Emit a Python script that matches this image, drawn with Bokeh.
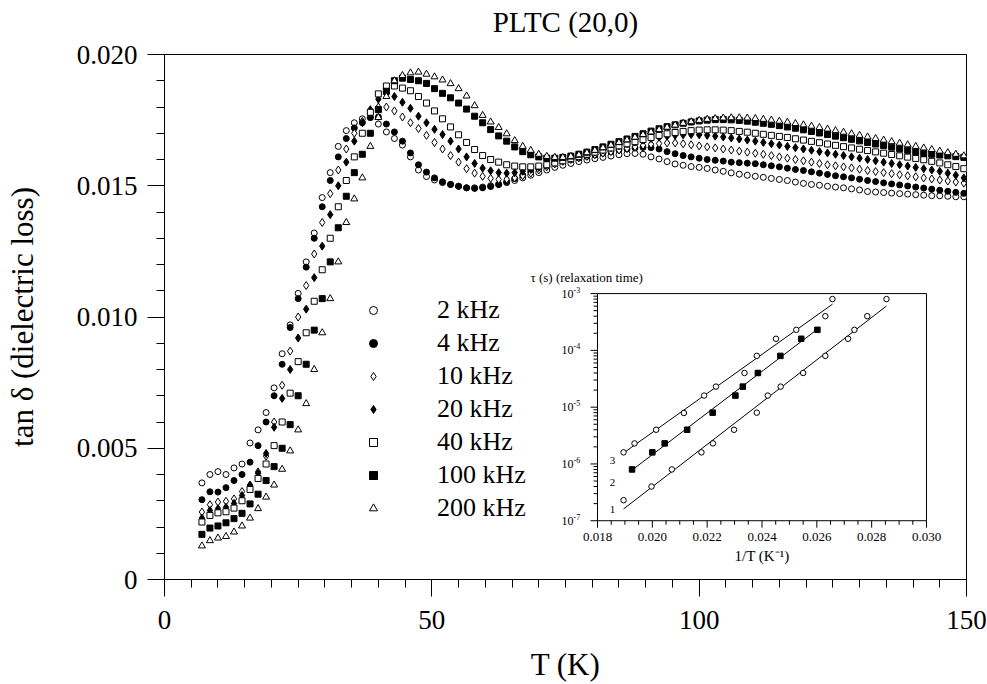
import numpy as np
from bokeh.plotting import figure
from bokeh.models import Range1d, LogScale, FixedTicker, Legend, LegendItem, NumeralTickFormatter, Title
from bokeh.core.properties import value
from bokeh.embed import file_html
from bokeh.resources import INLINE

SERIF = "'Liberation Serif', 'Times New Roman', serif"

# ---------------- main chart data: temperature (K) and tan(delta) -------------
T = [7.0, 8.5, 10.0, 11.5, 13.0, 14.5, 16.0, 17.5,
     19.0, 20.5, 22.0, 23.5, 25.0, 26.5, 28.0, 29.5,
     31.0, 32.5, 34.0, 35.5, 37.0, 38.5, 40.0, 41.5,
     43.0, 44.5, 46.0, 47.5, 49.0, 50.5, 52.0, 53.5,
     55.0, 56.5, 58.0, 59.5, 61.0, 62.5, 64.0, 65.5,
     67.0, 68.5, 70.0, 71.5, 73.0, 74.5, 76.0, 77.5,
     79.0, 80.5, 82.0, 83.5, 85.0, 86.5, 88.0, 89.5,
     91.0, 92.5, 94.0, 95.5, 97.0, 98.5, 100.0, 101.5,
     103.0, 104.5, 106.0, 107.5, 109.0, 110.5, 112.0, 113.5,
     115.0, 116.5, 118.0, 119.5, 121.0, 122.5, 124.0, 125.5,
     127.0, 128.5, 130.0, 131.5, 133.0, 134.5, 136.0, 137.5,
     139.0, 140.5, 142.0, 143.5, 145.0, 146.5, 148.0, 149.5]

tan_2k = [0.00368, 0.00400, 0.00411, 0.00400, 0.00425, 0.00440, 0.00520, 0.00570,
          0.00636, 0.00730, 0.00860, 0.00970, 0.01090, 0.01210, 0.01320, 0.01455,
          0.01550, 0.01650, 0.01710, 0.01740, 0.01755, 0.01760, 0.01735, 0.01705,
          0.01680, 0.01655, 0.01610, 0.01560, 0.01535, 0.01522, 0.01512, 0.01505,
          0.01498, 0.01492, 0.01492, 0.01495, 0.01500, 0.01505, 0.01512, 0.01520,
          0.01530, 0.01540, 0.01550, 0.01560, 0.01570, 0.01578, 0.01585, 0.01592,
          0.01598, 0.01603, 0.01608, 0.01613, 0.01618, 0.01622, 0.01623, 0.01620,
          0.01610, 0.01602, 0.01592, 0.01583, 0.01578, 0.01573, 0.01570, 0.01566,
          0.01560, 0.01555, 0.01549, 0.01544, 0.01540, 0.01536, 0.01532, 0.01528,
          0.01524, 0.01520, 0.01514, 0.01509, 0.01505, 0.01502, 0.01498, 0.01495,
          0.01492, 0.01488, 0.01484, 0.01478, 0.01476, 0.01474, 0.01472, 0.01470,
          0.01468, 0.01466, 0.01464, 0.01462, 0.01462, 0.01460, 0.01458, 0.01458]

tan_4k = [0.00304, 0.00334, 0.00333, 0.00350, 0.00377, 0.00400, 0.00447, 0.00510,
          0.00600, 0.00700, 0.00820, 0.00960, 0.01070, 0.01190, 0.01300, 0.01420,
          0.01520, 0.01610, 0.01680, 0.01720, 0.01740, 0.01760, 0.01762, 0.01735,
          0.01705, 0.01670, 0.01625, 0.01580, 0.01552, 0.01530, 0.01515, 0.01505,
          0.01498, 0.01492, 0.01490, 0.01492, 0.01497, 0.01505, 0.01515, 0.01527,
          0.01540, 0.01553, 0.01565, 0.01575, 0.01585, 0.01594, 0.01600, 0.01606,
          0.01612, 0.01618, 0.01624, 0.01630, 0.01636, 0.01640, 0.01644, 0.01646,
          0.01645, 0.01640, 0.01630, 0.01622, 0.01615, 0.01610, 0.01605, 0.01600,
          0.01597, 0.01594, 0.01590, 0.01588, 0.01586, 0.01584, 0.01580, 0.01576,
          0.01572, 0.01567, 0.01562, 0.01558, 0.01553, 0.01548, 0.01543, 0.01538,
          0.01534, 0.01530, 0.01525, 0.01520, 0.01516, 0.01511, 0.01507, 0.01503,
          0.01499, 0.01495, 0.01491, 0.01487, 0.01483, 0.01479, 0.01475, 0.01471]

tan_10k = [0.00257, 0.00285, 0.00295, 0.00298, 0.00307, 0.00335, 0.00358, 0.00410,
           0.00470, 0.00600, 0.00740, 0.00870, 0.01000, 0.01120, 0.01240, 0.01360,
           0.01470, 0.01560, 0.01640, 0.01700, 0.01745, 0.01780, 0.01800, 0.01800,
           0.01785, 0.01762, 0.01740, 0.01718, 0.01692, 0.01665, 0.01640, 0.01615,
           0.01590, 0.01565, 0.01548, 0.01536, 0.01528, 0.01524, 0.01525, 0.01530,
           0.01538, 0.01548, 0.01560, 0.01572, 0.01583, 0.01593, 0.01600, 0.01606,
           0.01612, 0.01618, 0.01624, 0.01630, 0.01636, 0.01642, 0.01648, 0.01654,
           0.01658, 0.01661, 0.01663, 0.01663, 0.01660, 0.01656, 0.01652, 0.01648,
           0.01644, 0.01640, 0.01636, 0.01632, 0.01628, 0.01624, 0.01620, 0.01615,
           0.01610, 0.01605, 0.01600, 0.01595, 0.01590, 0.01585, 0.01580, 0.01576,
           0.01572, 0.01568, 0.01563, 0.01558, 0.01554, 0.01550, 0.01546, 0.01542,
           0.01538, 0.01534, 0.01530, 0.01526, 0.01522, 0.01518, 0.01514, 0.01510]

tan_20k = [0.00234, 0.00263, 0.00270, 0.00275, 0.00290, 0.00320, 0.00360, 0.00405,
           0.00480, 0.00580, 0.00690, 0.00800, 0.00920, 0.01030, 0.01150, 0.01270,
           0.01390, 0.01500, 0.01590, 0.01670, 0.01740, 0.01790, 0.01830, 0.01850,
           0.01840, 0.01818, 0.01795, 0.01765, 0.01740, 0.01715, 0.01695, 0.01670,
           0.01640, 0.01610, 0.01585, 0.01567, 0.01557, 0.01550, 0.01548, 0.01550,
           0.01555, 0.01562, 0.01570, 0.01580, 0.01590, 0.01598, 0.01605, 0.01612,
           0.01620, 0.01628, 0.01636, 0.01644, 0.01652, 0.01660, 0.01667, 0.01674,
           0.01680, 0.01685, 0.01689, 0.01692, 0.01694, 0.01695, 0.01694, 0.01692,
           0.01689, 0.01686, 0.01682, 0.01678, 0.01674, 0.01670, 0.01665, 0.01660,
           0.01655, 0.01650, 0.01645, 0.01640, 0.01635, 0.01630, 0.01625, 0.01620,
           0.01615, 0.01610, 0.01605, 0.01600, 0.01595, 0.01590, 0.01585, 0.01580,
           0.01575, 0.01570, 0.01565, 0.01560, 0.01555, 0.01548, 0.01540, 0.01530]

tan_40k = [0.00219, 0.00244, 0.00254, 0.00258, 0.00272, 0.00300, 0.00343, 0.00385,
           0.00440, 0.00510, 0.00600, 0.00710, 0.00830, 0.00940, 0.01060, 0.01180,
           0.01300, 0.01420, 0.01520, 0.01610, 0.01700, 0.01780, 0.01850, 0.01880,
           0.01880, 0.01872, 0.01862, 0.01840, 0.01815, 0.01785, 0.01755, 0.01724,
           0.01694, 0.01665, 0.01638, 0.01615, 0.01600, 0.01590, 0.01580, 0.01575,
           0.01572, 0.01572, 0.01575, 0.01580, 0.01587, 0.01595, 0.01603, 0.01611,
           0.01620, 0.01628, 0.01636, 0.01644, 0.01652, 0.01660, 0.01668, 0.01676,
           0.01684, 0.01692, 0.01698, 0.01703, 0.01707, 0.01710, 0.01712, 0.01713,
           0.01713, 0.01712, 0.01710, 0.01707, 0.01704, 0.01700, 0.01696, 0.01692,
           0.01688, 0.01684, 0.01679, 0.01674, 0.01669, 0.01664, 0.01659, 0.01654,
           0.01649, 0.01644, 0.01639, 0.01634, 0.01629, 0.01624, 0.01619, 0.01614,
           0.01609, 0.01604, 0.01599, 0.01593, 0.01587, 0.01580, 0.01573, 0.01565]

tan_100k = [0.00172, 0.00196, 0.00204, 0.00216, 0.00232, 0.00252, 0.00288, 0.00325,
            0.00377, 0.00430, 0.00500, 0.00590, 0.00700, 0.00820, 0.00950, 0.01070,
            0.01210, 0.01340, 0.01460, 0.01550, 0.01620, 0.01700, 0.01790, 0.01860,
            0.01900, 0.01910, 0.01905, 0.01900, 0.01890, 0.01870, 0.01852, 0.01835,
            0.01815, 0.01792, 0.01765, 0.01740, 0.01714, 0.01690, 0.01670, 0.01648,
            0.01630, 0.01618, 0.01610, 0.01605, 0.01605, 0.01608, 0.01613, 0.01620,
            0.01628, 0.01638, 0.01648, 0.01658, 0.01668, 0.01678, 0.01688, 0.01698,
            0.01708, 0.01717, 0.01725, 0.01732, 0.01738, 0.01743, 0.01747, 0.01750,
            0.01752, 0.01752, 0.01751, 0.01749, 0.01746, 0.01742, 0.01738, 0.01734,
            0.01729, 0.01724, 0.01719, 0.01713, 0.01707, 0.01701, 0.01695, 0.01689,
            0.01683, 0.01677, 0.01671, 0.01665, 0.01659, 0.01653, 0.01647, 0.01641,
            0.01635, 0.01629, 0.01623, 0.01620, 0.01617, 0.01614, 0.01611, 0.01608]

tan_200k = [0.00128, 0.00148, 0.00158, 0.00164, 0.00181, 0.00204, 0.00234, 0.00270,
            0.00314, 0.00360, 0.00420, 0.00490, 0.00570, 0.00670, 0.00800, 0.00940,
            0.01070, 0.01210, 0.01360, 0.01450, 0.01530, 0.01650, 0.01760, 0.01840,
            0.01900, 0.01920, 0.01930, 0.01933, 0.01925, 0.01915, 0.01903, 0.01889,
            0.01870, 0.01842, 0.01805, 0.01768, 0.01743, 0.01722, 0.01698, 0.01672,
            0.01650, 0.01635, 0.01620, 0.01612, 0.01608, 0.01608, 0.01612, 0.01618,
            0.01626, 0.01635, 0.01645, 0.01655, 0.01665, 0.01675, 0.01685, 0.01695,
            0.01705, 0.01714, 0.01723, 0.01731, 0.01738, 0.01744, 0.01749, 0.01753,
            0.01756, 0.01758, 0.01759, 0.01759, 0.01758, 0.01756, 0.01753, 0.01750,
            0.01746, 0.01742, 0.01737, 0.01732, 0.01727, 0.01722, 0.01716, 0.01710,
            0.01704, 0.01698, 0.01692, 0.01686, 0.01680, 0.01674, 0.01668, 0.01662,
            0.01656, 0.01650, 0.01644, 0.01638, 0.01632, 0.01626, 0.01620, 0.01614]

series_labels = ["2 kHz", "4 kHz", "10 kHz", "20 kHz", "40 kHz", "100 kHz", "200 kHz"]
chart_title = "PLTC (20,0)"

x_ticks = [0, 50, 100, 150]
x_minor_ticks = [0, 5, 10, 15, 20, 25, 30, 35, 40, 45, 50, 55, 60, 65, 70, 75, 80, 85, 90, 95,
                 100, 105, 110, 115, 120, 125, 130, 135, 140, 145, 150]
y_ticks = [0.0, 0.005, 0.010, 0.015, 0.020]
y_minor_ticks = [0.001, 0.002, 0.003, 0.004, 0.006, 0.007, 0.008, 0.009,
                 0.011, 0.012, 0.013, 0.014, 0.016, 0.017, 0.018, 0.019]

# ---------------- inset data: 1/T (1/K) and relaxation time tau (s) ----------
inv_T_c1 = [0.01895, 0.01997, 0.02071, 0.02179, 0.02221, 0.02298, 0.02381, 0.02421,
            0.02468, 0.02550, 0.02631, 0.02714, 0.02737, 0.02784, 0.02854]
tau_c1 = [2.3e-7, 4.0e-7, 8.0e-7, 1.6e-6, 2.3e-6, 4.0e-6, 8.0e-6, 1.6e-5,
          2.3e-5, 4.0e-5, 8.0e-5, 1.6e-4, 2.3e-4, 4.0e-4, 8.0e-4]
inv_T_c2 = [0.01926, 0.02000, 0.02045, 0.02127, 0.02220, 0.02303, 0.02330, 0.02385,
            0.02467, 0.02543, 0.02602]
tau_c2 = [8.0e-7, 1.6e-6, 2.3e-6, 4.0e-6, 8.0e-6, 1.6e-5, 2.3e-5, 4.0e-5,
          8.0e-5, 1.6e-4, 2.3e-4]
inv_T_c3 = [0.01895, 0.01935, 0.02014, 0.02115, 0.02189, 0.02232, 0.02336, 0.02381,
            0.02451, 0.02525, 0.02631, 0.02657]
tau_c3 = [1.6e-6, 2.3e-6, 4.0e-6, 7.9e-6, 1.6e-5, 2.3e-5, 4.0e-5, 8.0e-5,
          1.6e-4, 2.3e-4, 4.0e-4, 8.0e-4]

inset_x_ticks = [0.018, 0.020, 0.022, 0.024, 0.026, 0.028, 0.030]
inset_x_tick_labels = ["0.018", "0.020", "0.022", "0.024", "0.026", "0.028", "0.030"]
inset_x_minor = [0.0185, 0.019, 0.0195, 0.0205, 0.021, 0.0215, 0.0225, 0.023, 0.0235,
                 0.0245, 0.025, 0.0255, 0.0265, 0.027, 0.0275, 0.0285, 0.029, 0.0295]
inset_decades = [-7, -6, -5, -4, -3]
inset_decade_labels = ["-7", "-6", "-5", "-4", "-3"]
inset_minor_mult = [2, 3, 4, 5, 6, 7, 8, 9]
curve_names = ["1", "2", "3"]
curve_label_x = [0.01855, 0.01855, 0.01855]
curve_label_tau = [1.6e-7, 4.8e-7, 1.13e-6]

# ---------------- layout (canvas pixels) ----------------
W, H = 987, 684
FRAME_L, FRAME_R, FRAME_T, FRAME_B = 164, 966, 54, 581
INSET_L, INSET_R, INSET_T, INSET_B = 597, 926, 294, 522

p = figure(width=W, height=H, x_range=Range1d(0, 150), y_range=Range1d(0, 0.020),
           output_backend="svg", toolbar_location=None,
           min_border_left=FRAME_L, min_border_right=W - FRAME_R,
           min_border_top=FRAME_T, min_border_bottom=H - FRAME_B)
p.background_fill_color = "white"
p.border_fill_color = "white"
p.outline_line_color = "black"
p.outline_line_width = 1
p.xgrid.visible = False
p.ygrid.visible = False

# invisible spacer between frame and title, so that the title sits higher
p.add_layout(Title(text=" ", text_font_size="10px", standoff=4), "above")
p.title.text = chart_title
p.title.align = "center"
p.title.text_font = SERIF
p.title.text_font_size = "29px"
p.title.text_font_style = "normal"
p.title.text_color = "black"
p.title.standoff = 0

p.xaxis.ticker = FixedTicker(ticks=x_ticks, minor_ticks=x_minor_ticks)
p.yaxis.ticker = FixedTicker(ticks=y_ticks, minor_ticks=y_minor_ticks)
p.yaxis.formatter = NumeralTickFormatter(format="0.000")
p.yaxis.major_label_overrides = {0: "0"}
for ax in (p.xaxis, p.yaxis):
    ax.major_tick_out = 17
    ax.major_tick_in = 0
    ax.minor_tick_out = 8
    ax.minor_tick_in = 0
    ax.axis_line_color = "black"
    ax.major_tick_line_color = "black"
    ax.minor_tick_line_color = "black"
    ax.major_label_text_font = SERIF
    ax.major_label_text_font_size = "27px"
    ax.major_label_text_color = "black"
    ax.axis_label_text_font = SERIF
    ax.axis_label_text_font_style = "normal"
    ax.axis_label_text_color = "black"
    ax.axis_label_text_font_size = "31px"
p.xaxis.axis_label = "T (K)"
p.xaxis.major_label_standoff = 14
p.xaxis.axis_label_standoff = 15
p.yaxis.axis_label = "tan δ (dielectric loss)"
p.yaxis.major_label_standoff = 10
p.yaxis.axis_label_standoff = 34

series = [tan_2k, tan_4k, tan_10k, tan_20k, tan_40k, tan_100k, tan_200k]
styles = [("circle", "white", 6), ("circle", "black", 6), ("diamond", "white", 8),
          ("diamond", "black", 8), ("square", "white", 6), ("square", "black", 6),
          ("triangle", "white", 7)]
renderers = []
for ys, (mk, fc, sz) in zip(series, styles):
    r = p.scatter(T, ys, marker=mk, size=sz, fill_color=fc, line_color="black", line_width=1)
    renderers.append(r)

legend = Legend(items=[LegendItem(label=lab, renderers=[r]) for lab, r in zip(series_labels, renderers)],
                location=(199, 56), glyph_width=20, glyph_height=30, label_height=30,
                spacing=3, padding=0, margin=0, label_standoff=54,
                border_line_alpha=0, background_fill_alpha=0,
                label_text_font=SERIF, label_text_font_size="26px", label_text_color="black")
p.add_layout(legend)

# ---------------- inset (drawn with extra ranges inside the frame) ----------
x0i, x1i = inset_x_ticks[0], inset_x_ticks[-1]
kx = (INSET_R - INSET_L) / (x1i - x0i)
ppd = (INSET_B - INSET_T) / (inset_decades[-1] - inset_decades[0])
p.extra_x_ranges = {"ix": Range1d(x0i - (INSET_L - FRAME_L) / kx, x1i + (FRAME_R - INSET_R) / kx)}
p.extra_y_ranges = {"iy": Range1d(10 ** (inset_decades[0] - (FRAME_B - INSET_B) / ppd),
                                  10 ** (inset_decades[-1] + (INSET_T - FRAME_T) / ppd))}
p.extra_y_scales = {"iy": LogScale()}
kw = dict(x_range_name="ix", y_range_name="iy")
ybot, ytop = 10.0 ** inset_decades[0], 10.0 ** inset_decades[-1]

p.quad(left=[x0i], right=[x1i], bottom=[ybot], top=[ytop], fill_color="white",
       line_color="black", line_width=1, **kw)
# x ticks
p.segment(x0=inset_x_ticks, y0=[ybot] * len(inset_x_ticks), x1=inset_x_ticks,
          y1=[ybot * 10 ** (-7 / ppd)] * len(inset_x_ticks), line_color="black", line_width=1, **kw)
p.segment(x0=inset_x_minor, y0=[ybot] * len(inset_x_minor), x1=inset_x_minor,
          y1=[ybot * 10 ** (-4 / ppd)] * len(inset_x_minor), line_color="black", line_width=1, **kw)
# y ticks
ymaj = [10.0 ** d for d in inset_decades]
ymin = [m * 10.0 ** d for d in inset_decades[:-1] for m in inset_minor_mult]
p.segment(x0=[x0i] * len(ymaj), y0=ymaj, x1=[x0i - 7 / kx] * len(ymaj), y1=ymaj,
          line_color="black", line_width=1, **kw)
p.segment(x0=[x0i] * len(ymin), y0=ymin, x1=[x0i - 4 / kx] * len(ymin), y1=ymin,
          line_color="black", line_width=1, **kw)
# tick labels
p.text(x=inset_x_ticks, y=[ybot] * len(inset_x_ticks), text=inset_x_tick_labels,
       text_align="center", text_baseline="top", y_offset=12,
       text_font=value(SERIF), text_font_size=value("13px"), text_color="black", **kw)
p.text(x=[x0i] * len(ymaj), y=ymaj, text=["10"] * len(ymaj), text_align="right",
       text_baseline="middle", x_offset=-24, text_font=value(SERIF),
       text_font_size=value("12px"), text_color="black", **kw)
p.text(x=[x0i] * len(ymaj), y=ymaj, text=inset_decade_labels, text_align="left",
       text_baseline="middle", x_offset=-24, y_offset=-4, text_font=value(SERIF),
       text_font_size=value("8px"), text_color="black", **kw)
p.text(x=[(x0i + x1i) / 2], y=[ybot], text=["1/T (K⁻¹)"], text_align="center",
       text_baseline="middle", y_offset=35, text_font=value(SERIF),
       text_font_size=value("15px"), text_color="black", **kw)
p.text(x=[x0i], y=[ytop], text=["τ (s) (relaxation time)"], text_align="left",
       text_baseline="middle", x_offset=-67, y_offset=-16, text_font=value(SERIF),
       text_font_size=value("13px"), text_color="black", **kw)
p.text(x=curve_label_x, y=curve_label_tau, text=curve_names, text_align="center",
       text_baseline="middle", text_font=value(SERIF), text_font_size=value("11px"),
       text_color="black", **kw)

# data and fitted lines
for xs, ts, mk, fc in [(inv_T_c1, tau_c1, "circle", "white"), (inv_T_c2, tau_c2, "square", "black"),
                       (inv_T_c3, tau_c3, "circle", "white")]:
    a, b = np.polyfit(np.array(xs), np.log10(np.array(ts)), 1)
    xl = np.array([min(xs), max(xs)])
    p.line(xl, 10 ** (a * xl + b), line_color="black", line_width=1, **kw)
    p.scatter(xs, ts, marker=mk, size=5.5, fill_color=fc, line_color="black", line_width=1, **kw)

open("out.html", "w").write(file_html(p, INLINE))
